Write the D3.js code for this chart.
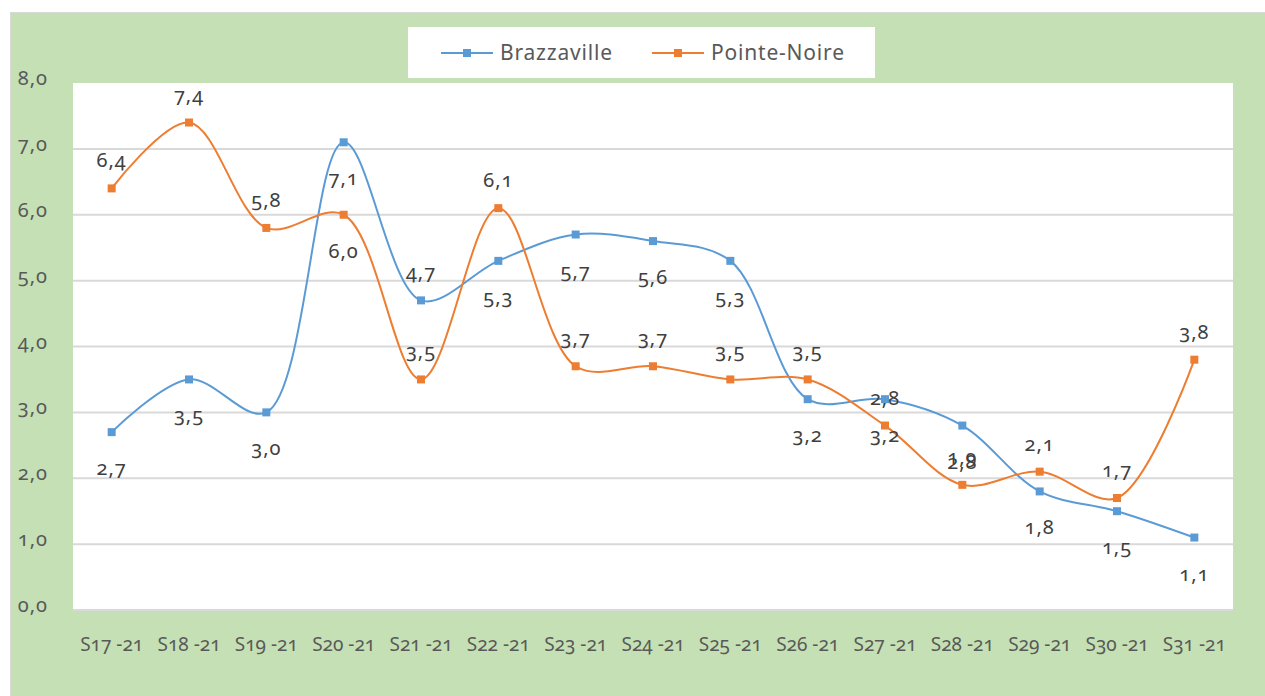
<!DOCTYPE html>
<html>
<head>
<meta charset="utf-8">
<script src="https://cdnjs.cloudflare.com/ajax/libs/d3/7.8.5/d3.min.js"></script>
<style>
  body { margin: 0; background: #fff; }
  text { font-family: "Noto Sans", "Open Sans", sans-serif; font-variant-numeric: oldstyle-nums; }
</style>
</head>
<body>
<svg id="chart"></svg>
<script>
// Data
const weeks = ["S17 -21", "S18 -21", "S19 -21", "S20 -21", "S21 -21", "S22 -21", "S23 -21", "S24 -21",
  "S25 -21", "S26 -21", "S27 -21", "S28 -21", "S29 -21", "S30 -21", "S31 -21"];
const brazzaville = [2.7, 3.5, 3.0, 7.1, 4.7, 5.3, 5.7, 5.6, 5.3, 3.2, 3.2, 2.8, 1.8, 1.5, 1.1];
const pointeNoire = [6.4, 7.4, 5.8, 6.0, 3.5, 6.1, 3.7, 3.7, 3.5, 3.5, 2.8, 1.9, 2.1, 1.7, 3.8];
const yTicks = [0, 1, 2, 3, 4, 5, 6, 7, 8];

// labels that sit on the opposite side from the rest of their series
const brazzavilleAbove = ["S21 -21"];
const pointeNoireBelow = ["S20 -21"];

const width = 1265, height = 696;
const plot = { left: 73, right: 1233, top: 83, bottom: 610 };

const svg = d3.select("#chart")
  .attr("width", width)
  .attr("height", height);

// green chart area with a faint border
svg.append("rect")
  .attr("x", 10.5).attr("y", 12.5)
  .attr("width", width - 10).attr("height", height - 12)
  .attr("fill", "#c5e0b4")
  .attr("stroke", "#d9d9d9");

// white plot area
svg.append("rect")
  .attr("x", plot.left).attr("y", plot.top)
  .attr("width", plot.right - plot.left).attr("height", plot.bottom - plot.top)
  .attr("fill", "#fff");

const x = d3.scaleBand().domain(weeks).range([plot.left, plot.right]);
const y = d3.scaleLinear().domain([0, 8]).range([plot.bottom, plot.top]);
const cx = d => x(d) + x.bandwidth() / 2;

// gridlines
svg.append("g")
  .selectAll("line")
  .data(yTicks.filter(t => t < 8))
  .join("line")
  .attr("x1", plot.left).attr("x2", plot.right)
  .attr("y1", d => y(d)).attr("y2", d => y(d))
  .attr("stroke", "#d9d9d9")
  .attr("stroke-width", 2);

// y axis labels
const fmt = v => d3.format(".1f")(v).replace(".", ",");
svg.append("g")
  .selectAll("text")
  .data(yTicks)
  .join("text")
  .attr("x", 48)
  .attr("y", d => y(d))
  .attr("dy", "0.1em")
  .attr("text-anchor", "end")
  .attr("font-size", 20)
  .attr("letter-spacing", 1)
  .attr("fill", "#595959")
  .text(fmt);

// x axis labels
svg.append("g")
  .selectAll("text")
  .data(weeks)
  .join("text")
  .attr("x", d => cx(d))
  .attr("y", 651)
  .attr("text-anchor", "middle")
  .attr("font-size", 19)
  .attr("fill", "#595959")
  .text(d => d);

const series = [
  { name: "Brazzaville", values: brazzaville, color: "#5b9bd5", below: d => !brazzavilleAbove.includes(d) },
  { name: "Pointe-Noire", values: pointeNoire, color: "#ed7d31", below: d => pointeNoireBelow.includes(d) }
];

const line = d3.line()
  .x((v, i) => cx(weeks[i]))
  .y(v => y(v))
  .curve(d3.curveCatmullRom.alpha(0.5));

series.forEach(s => {
  svg.append("path")
    .attr("d", line(s.values))
    .attr("fill", "none")
    .attr("stroke", s.color)
    .attr("stroke-width", 2);

  svg.append("g")
    .selectAll("rect")
    .data(s.values)
    .join("rect")
    .attr("x", (v, i) => cx(weeks[i]) - 4)
    .attr("y", v => y(v) - 4)
    .attr("width", 8).attr("height", 8)
    .attr("fill", s.color);
});

// data labels drawn on top
series.forEach(s => {
  svg.append("g")
    .selectAll("text")
    .data(s.values)
    .join("text")
    .attr("x", (v, i) => cx(weeks[i]))
    .attr("y", (v, i) => y(v) + (s.below(weeks[i]) ? 43 : -21))
    .attr("text-anchor", "middle")
    .attr("font-size", 20)
    .attr("letter-spacing", 1)
    .attr("fill", "#404040")
    .text(fmt);
});

// legend
const legend = svg.append("g");
legend.append("rect")
  .attr("x", 408).attr("y", 27)
  .attr("width", 467).attr("height", 51)
  .attr("fill", "#fff");

const legendX = [441, 652];
series.forEach((s, i) => {
  const g = legend.append("g").attr("transform", `translate(${legendX[i]},53)`);
  g.append("line").attr("x1", 0).attr("x2", 52).attr("stroke", s.color).attr("stroke-width", 2);
  g.append("rect").attr("x", 22).attr("y", -4).attr("width", 8).attr("height", 8).attr("fill", s.color);
  g.append("text")
    .attr("x", 59).attr("y", 0).attr("dy", "0.35em")
    .attr("font-size", 21)
    .attr("letter-spacing", 0.8)
    .attr("fill", "#595959")
    .text(s.name);
});
</script>
</body>
</html>
